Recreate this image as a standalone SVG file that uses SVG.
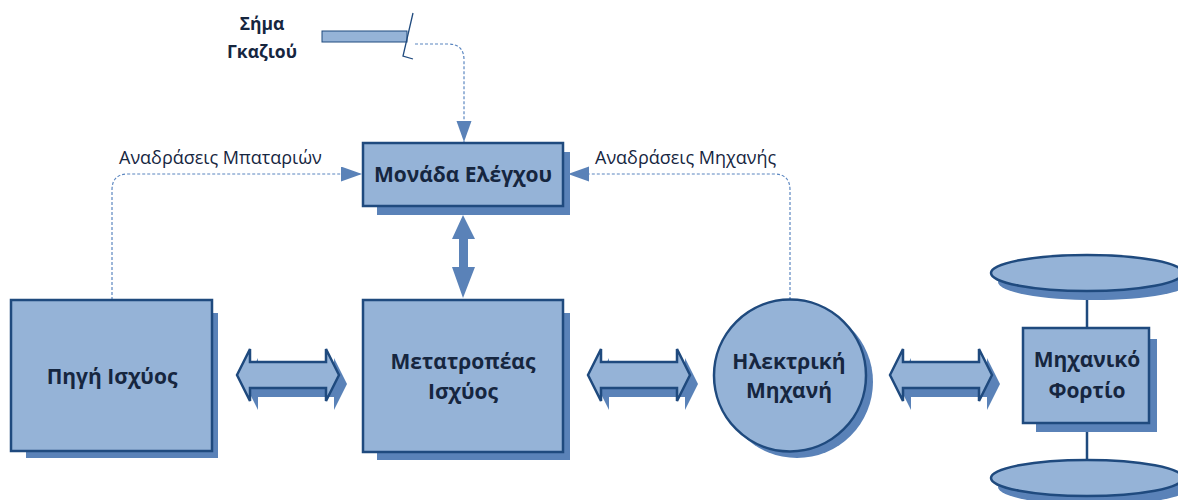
<svg xmlns="http://www.w3.org/2000/svg" width="1178" height="500" viewBox="0 0 1178 500">
  <style>
    .box { fill: #95B3D7; stroke: #1F4A7E; stroke-width: 2.5; }
    .shadow { fill: #5A82B8; stroke: none; }
    .lbl { font-family: "Open Sans", "Noto Sans", sans-serif; font-weight: bold; font-size: 21px; fill: #16263F; text-anchor: middle; }
    .lbl.small { font-size: 17.5px; }
    .note { font-family: "Open Sans", "Noto Sans", sans-serif; font-size: 18px; fill: #16263F; }
    .dash { fill: none; stroke: #5B86C0; stroke-width: 1.2; stroke-dasharray: 3 2; }
    .link { stroke: #1F4A7E; stroke-width: 2.5; }
  </style>
  <defs>
    <marker id="head" markerUnits="userSpaceOnUse" markerWidth="22" markerHeight="16" refX="21" refY="7.5" orient="auto">
      <path d="M0,0 L21,7.5 L0,15 Z" fill="#5A82B8"/>
    </marker>
    <path id="dblArrow" d="M0,26 L13,0 L13,13 L89,13 L89,0 L102,26 L89,52 L89,39 L13,39 L13,52 Z"/>
  </defs>

  <rect width="1178" height="500" fill="#FFFFFF"/>

  <!-- connectors -->
  <g id="connectors">
    <path class="dash" d="M415,44 H448 Q464,44 464,60 V142" marker-end="url(#head)"/>
    <path class="dash" d="M112,300 V190 Q112,174 128,174 H362" marker-end="url(#head)"/>
    <path class="dash" d="M790,300 V190 Q790,174 774,174 H568" marker-end="url(#head)"/>
    <!-- control <-> converter -->
    <path d="M463,215 L475,239 L468,239 L468,267 L475,267 L463,298 L452,267 L459,267 L459,239 L452,239 Z" fill="#5A82B8"/>
    <!-- power flow arrows -->
    <g transform="translate(237,349)">
      <use href="#dblArrow" class="shadow" transform="translate(8,9)"/>
      <use href="#dblArrow" class="box" stroke-width="2"/>
    </g>
    <g transform="translate(588,349)">
      <use href="#dblArrow" class="shadow" transform="translate(8,9)"/>
      <use href="#dblArrow" class="box" stroke-width="2"/>
    </g>
    <g transform="translate(890,349)">
      <use href="#dblArrow" class="shadow" transform="translate(8,9)"/>
      <use href="#dblArrow" class="box" stroke-width="2"/>
    </g>
    <text class="note" x="119" y="164">Αναδράσεις Μπαταριών</text>
    <text class="note" x="595" y="164">Αναδράσεις Μηχανής</text>
  </g>

  <!-- throttle signal -->
  <g id="throttle">
    <rect x="322" y="31" width="85" height="11" fill="#95B3D7" stroke="#1F4A7E" stroke-width="1"/>
    <path d="M413,13 L403,56 L413,59" fill="none" stroke="#1F4A7E" stroke-width="1.3"/>
    <text class="lbl small" x="262" y="30">Σήμα</text>
    <text class="lbl small" x="262" y="58">Γκαζιού</text>
  </g>

  <g id="control-unit">
    <rect class="shadow" x="377" y="152" width="193" height="63"/>
    <rect class="box" x="363" y="143" width="200" height="63"/>
    <text class="lbl" x="463" y="182">Μονάδα Ελέγχου</text>
  </g>

  <g id="power-source">
    <rect class="shadow" x="26" y="313" width="192" height="145"/>
    <rect class="box" x="11" y="300" width="201" height="151"/>
    <text class="lbl" x="112" y="384">Πηγή Ισχύος</text>
  </g>

  <g id="power-converter">
    <rect class="shadow" x="377" y="313" width="193" height="147"/>
    <rect class="box" x="363" y="300" width="200" height="152"/>
    <text class="lbl" x="463" y="369">Μετατροπέας</text>
    <text class="lbl" x="463" y="399">Ισχύος</text>
  </g>

  <g id="electric-machine">
    <circle class="shadow" cx="797" cy="382" r="76"/>
    <circle class="box" cx="790" cy="375.5" r="76"/>
    <text class="lbl" x="789" y="369">Ηλεκτρική</text>
    <text class="lbl" x="789" y="398">Μηχανή</text>
  </g>

  <g id="mechanical-load">
    <line class="link" x1="1087" y1="291" x2="1087" y2="328"/>
    <line class="link" x1="1087" y1="423" x2="1087" y2="460"/>
    <ellipse class="shadow" cx="1094" cy="282" rx="96" ry="18"/>
    <ellipse class="box" cx="1087" cy="273" rx="96" ry="18"/>
    <rect class="shadow" x="1036" y="339" width="121" height="93"/>
    <rect class="box" x="1023" y="328" width="126" height="95"/>
    <text class="lbl" x="1087" y="367">Μηχανικό</text>
    <text class="lbl" x="1087" y="398">Φορτίο</text>
    <ellipse class="shadow" cx="1094" cy="487" rx="96" ry="18"/>
    <ellipse class="box" cx="1087" cy="478" rx="96" ry="18"/>
  </g>
</svg>
